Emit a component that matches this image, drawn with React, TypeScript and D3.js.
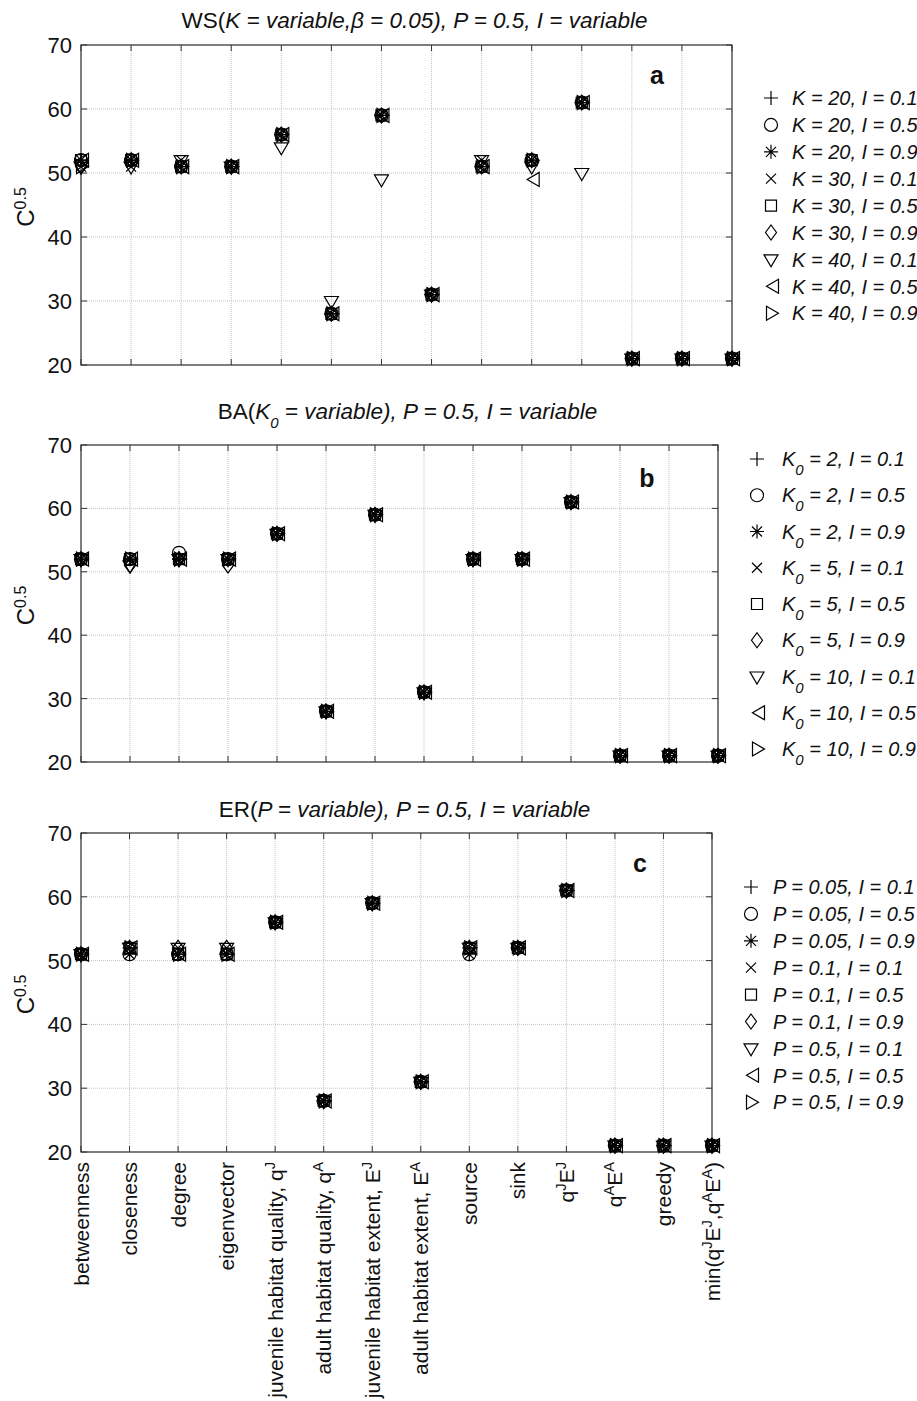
import React from "react";
import * as d3 from "d3";

// ---------- DATA ----------
const categories = [
  "betweenness",
  "closeness",
  "degree",
  "eigenvector",
  "juvenile habitat quality, q^J",
  "adult habitat quality, q^A",
  "juvenile habitat extent, E^J",
  "adult habitat extent, E^A",
  "source",
  "sink",
  "q^JE^J",
  "q^AE^A",
  "greedy",
  "min(q^JE^J,q^AE^A)",
];

const yTicks = [20, 30, 40, 50, 60, 70];

const markerKinds = ["plus", "circle", "star", "cross", "square", "diamond", "tdown", "tleft", "tright"];

// Panel a: WS(K = variable, beta = 0.05)
const wsLegend = [
  "K = 20, I = 0.1", "K = 20, I = 0.5", "K = 20, I = 0.9",
  "K = 30, I = 0.1", "K = 30, I = 0.5", "K = 30, I = 0.9",
  "K = 40, I = 0.1", "K = 40, I = 0.5", "K = 40, I = 0.9",
];
const wsValues = [
  [52, 52, 51, 51, 56, 28, 59, 31, 51, 52, 61, 21, 21, 21],
  [52, 52, 51, 51, 56, 28, 59, 31, 51, 52, 61, 21, 21, 21],
  [52, 52, 51, 51, 56, 28, 59, 31, 51, 52, 61, 21, 21, 21],
  [51, 51, 52, 51, 56, 28, 59, 31, 52, 52, 61, 21, 21, 21],
  [52, 52, 51, 51, 56, 28, 59, 31, 51, 52, 61, 21, 21, 21],
  [51, 52, 51, 51, 56, 28, 59, 31, 51, 52, 61, 21, 21, 21],
  [51, 51, 52, 51, 54, 30, 49, 31, 52, 51, 50, 21, 21, 21],
  [52, 52, 51, 51, 56, 28, 59, 31, 51, 49, 61, 21, 21, 21],
  [51, 52, 51, 51, 56, 28, 59, 31, 51, 52, 61, 21, 21, 21],
];

// Panel b: BA(K0 = variable)
const baLegend = [
  "2, I = 0.1", "2, I = 0.5", "2, I = 0.9",
  "5, I = 0.1", "5, I = 0.5", "5, I = 0.9",
  "10, I = 0.1", "10, I = 0.5", "10, I = 0.9",
];
const baValues = [
  [52, 52, 52, 52, 56, 28, 59, 31, 52, 52, 61, 21, 21, 21],
  [52, 52, 53, 52, 56, 28, 59, 31, 52, 52, 61, 21, 21, 21],
  [52, 52, 52, 52, 56, 28, 59, 31, 52, 52, 61, 21, 21, 21],
  [52, 52, 52, 52, 56, 28, 59, 31, 52, 52, 61, 21, 21, 21],
  [52, 52, 52, 52, 56, 28, 59, 31, 52, 52, 61, 21, 21, 21],
  [52, 51, 52, 51, 56, 28, 59, 31, 52, 52, 61, 21, 21, 21],
  [52, 51, 52, 52, 56, 28, 59, 31, 52, 52, 61, 21, 21, 21],
  [52, 52, 52, 52, 56, 28, 59, 31, 52, 52, 61, 21, 21, 21],
  [52, 52, 52, 52, 56, 28, 59, 31, 52, 52, 61, 21, 21, 21],
];

// Panel c: ER(P = variable)
const erLegend = [
  "P = 0.05, I = 0.1", "P = 0.05, I = 0.5", "P = 0.05, I = 0.9",
  "P = 0.1, I = 0.1", "P = 0.1, I = 0.5", "P = 0.1, I = 0.9",
  "P = 0.5, I = 0.1", "P = 0.5, I = 0.5", "P = 0.5, I = 0.9",
];
const erValues = [
  [51, 52, 51, 51, 56, 28, 59, 31, 52, 52, 61, 21, 21, 21],
  [51, 51, 51, 51, 56, 28, 59, 31, 51, 52, 61, 21, 21, 21],
  [51, 51, 51, 51, 56, 28, 59, 31, 51, 52, 61, 21, 21, 21],
  [51, 52, 52, 52, 56, 28, 59, 31, 52, 52, 61, 21, 21, 21],
  [51, 52, 51, 51, 56, 28, 59, 31, 52, 52, 61, 21, 21, 21],
  [51, 52, 52, 52, 56, 28, 59, 31, 52, 52, 61, 21, 21, 21],
  [51, 52, 52, 52, 56, 28, 59, 31, 52, 52, 61, 21, 21, 21],
  [51, 52, 51, 51, 56, 28, 59, 31, 52, 52, 61, 21, 21, 21],
  [51, 52, 51, 51, 56, 28, 59, 31, 52, 52, 61, 21, 21, 21],
];

// ---------- RENDERING ----------
const FONT = "'Liberation Sans', Arial, sans-serif";

function markerPath(kind: string): string {
  const r = 7;
  switch (kind) {
    case "plus":
      return `M${-r},0H${r}M0,${-r}V${r}`;
    case "cross": {
      const a = 5;
      return `M${-a},${-a}L${a},${a}M${-a},${a}L${a},${-a}`;
    }
    case "star": {
      const a = 5;
      return `M${-r},0H${r}M0,${-r}V${r}M${-a},${-a}L${a},${a}M${-a},${a}L${a},${-a}`;
    }
    case "square":
      return `M-5.5,-5.5H5.5V5.5H-5.5Z`;
    case "diamond":
      return `M0,-7.5L5.5,0L0,7.5L-5.5,0Z`;
    case "tdown":
      return `M-7,-4.5L7,-4.5L0,7.5Z`;
    case "tleft":
      return `M7.5,-7L7.5,7L-4.5,0Z`;
    case "tright":
      return `M-4.5,-7L-4.5,7L7.5,0Z`;
    default:
      return "";
  }
}

function Marker({ kind, x, y }: { kind: string; x: number; y: number }) {
  if (kind === "circle") {
    return <circle cx={x} cy={y} r={6.5} fill="none" stroke="#000" strokeWidth={1.2} />;
  }
  return (
    <path
      d={markerPath(kind)}
      transform={`translate(${x},${y})`}
      fill="none"
      stroke="#000"
      strokeWidth={1.2}
    />
  );
}

function SupText({ text, fontSize }: { text: string; fontSize: number }) {
  const parts = text.split(/(\^\w)/).filter((p) => p !== "");
  return (
    <>
      {parts.map((p, i) =>
        p.startsWith("^") ? (
          <tspan key={i} fontSize={fontSize * 0.7} baselineShift="super">
            {p.slice(1)}
          </tspan>
        ) : (
          <tspan key={i}>{p}</tspan>
        )
      )}
    </>
  );
}

type PanelProps = {
  left: number;
  right: number;
  top: number;
  bottom: number;
  values: number[][];
  letter: string;
  letterX: number;
  letterY: number;
  title: React.ReactNode;
  titleY: number;
  legend: React.ReactNode[];
  legendX: number;
  legendTextX: number;
  legendY0: number;
  legendDy: number;
  showXLabels: boolean;
};

function Panel(p: PanelProps) {
  const x = d3.scalePoint<string>().domain(categories).range([p.left, p.right]).padding(0);
  const y = d3.scaleLinear().domain([20, 70]).range([p.bottom, p.top]);
  const tick = 6;
  return (
    <g>
      {categories.map((c) => (
        <line
          key={"gx" + c}
          x1={x(c)}
          x2={x(c)}
          y1={p.top}
          y2={p.bottom}
          stroke="#c4c4c4"
          strokeWidth={1}
          strokeDasharray="1,1"
        />
      ))}
      {yTicks.map((t) => (
        <line
          key={"gy" + t}
          x1={p.left}
          x2={p.right}
          y1={y(t)}
          y2={y(t)}
          stroke="#c4c4c4"
          strokeWidth={1}
          strokeDasharray="1,1"
        />
      ))}
      <rect
        x={p.left}
        y={p.top}
        width={p.right - p.left}
        height={p.bottom - p.top}
        fill="none"
        stroke="#333"
        strokeWidth={1.2}
      />
      {categories.map((c) => (
        <g key={"tx" + c}>
          <line x1={x(c)} x2={x(c)} y1={p.bottom} y2={p.bottom - tick} stroke="#333" />
          <line x1={x(c)} x2={x(c)} y1={p.top} y2={p.top + tick} stroke="#333" />
        </g>
      ))}
      {yTicks.map((t) => (
        <g key={"ty" + t}>
          <line x1={p.left} x2={p.left + tick} y1={y(t)} y2={y(t)} stroke="#333" />
          <line x1={p.right} x2={p.right - tick} y1={y(t)} y2={y(t)} stroke="#333" />
          <text
            x={p.left - 9}
            y={y(t)}
            dy="0.36em"
            textAnchor="end"
            fontSize={22}
            fontFamily={FONT}
            fill="#111"
          >
            {t}
          </text>
        </g>
      ))}
      <text
        transform={`translate(${34},${(p.top + p.bottom) / 2 + 2}) rotate(-90)`}
        textAnchor="middle"
        fontSize={24}
        fontFamily={FONT}
        fill="#111"
      >
        C<tspan fontSize={16} baselineShift="super">0.5</tspan>
      </text>
      <text
        x={(p.left + p.right) / 2 + 8}
        y={p.titleY}
        textAnchor="middle"
        fontSize={22.5}
        fontFamily={FONT}
        fill="#111"
      >
        {p.title}
      </text>
      <text
        x={p.letterX}
        y={p.letterY}
        textAnchor="middle"
        fontSize={25}
        fontWeight="bold"
        fontFamily={FONT}
        fill="#111"
      >
        {p.letter}
      </text>
      {p.values.map((row, si) =>
        row.map((v, ci) => (
          <Marker key={`m${si}-${ci}`} kind={markerKinds[si]} x={x(categories[ci]) as number} y={y(v)} />
        ))
      )}
      {p.legend.map((lab, i) => {
        const ly = p.legendY0 + i * p.legendDy;
        return (
          <g key={"lg" + i}>
            <Marker kind={markerKinds[i]} x={p.legendX} y={ly} />
            <text
              x={p.legendTextX}
              y={ly}
              dy="0.36em"
              fontSize={20}
              fontStyle="italic"
              fontFamily={FONT}
              fill="#111"
            >
              {lab}
            </text>
          </g>
        );
      })}
      {p.showXLabels &&
        categories.map((c) => (
          <text
            key={"xl" + c}
            transform={`translate(${x(c)},${p.bottom + 10}) rotate(-90)`}
            textAnchor="end"
            dy="0.36em"
            fontSize={21}
            fontFamily={FONT}
            fill="#111"
          >
            <SupText text={c} fontSize={21} />
          </text>
        ))}
    </g>
  );
}

export default function App() {
  const titleA = (
    <>
      <tspan>WS(</tspan>
      <tspan fontStyle="italic">K = variable,β = 0.05), P = 0.5, I = variable</tspan>
    </>
  );
  const titleB = (
    <>
      <tspan>BA(</tspan>
      <tspan fontStyle="italic">K</tspan>
      <tspan fontStyle="italic" fontSize={15} baselineShift="sub">0</tspan>
      <tspan fontStyle="italic"> = variable), P = 0.5, I = variable</tspan>
    </>
  );
  const titleC = (
    <>
      <tspan>ER(</tspan>
      <tspan fontStyle="italic">P = variable), P = 0.5, I = variable</tspan>
    </>
  );
  const legendB = baLegend.map((s) => (
    <>
      <tspan>K</tspan>
      <tspan fontSize={15} baselineShift="sub">0</tspan>
      <tspan>{" = " + s}</tspan>
    </>
  ));
  return (
    <svg width={917} height={1401} style={{ display: "block", position: "absolute", left: 0, top: 0, background: "#fff" }}>
      <rect x={0} y={0} width={917} height={1401} fill="#fff" />
      <Panel
        left={81}
        right={732}
        top={45}
        bottom={365}
        values={wsValues}
        letter="a"
        letterX={657}
        letterY={84}
        title={titleA}
        titleY={28}
        legend={wsLegend}
        legendX={771}
        legendTextX={792}
        legendY0={98}
        legendDy={26.9}
        showXLabels={false}
      />
      <Panel
        left={81}
        right={718}
        top={445}
        bottom={762}
        values={baValues}
        letter="b"
        letterX={647}
        letterY={487}
        title={titleB}
        titleY={419}
        legend={legendB}
        legendX={757}
        legendTextX={782}
        legendY0={459}
        legendDy={36.25}
        showXLabels={false}
      />
      <Panel
        left={81}
        right={712}
        top={833}
        bottom={1152}
        values={erValues}
        letter="c"
        letterX={640}
        letterY={872}
        title={titleC}
        titleY={817}
        legend={erLegend}
        legendX={751}
        legendTextX={773}
        legendY0={887}
        legendDy={26.9}
        showXLabels={true}
      />
    </svg>
  );
}
